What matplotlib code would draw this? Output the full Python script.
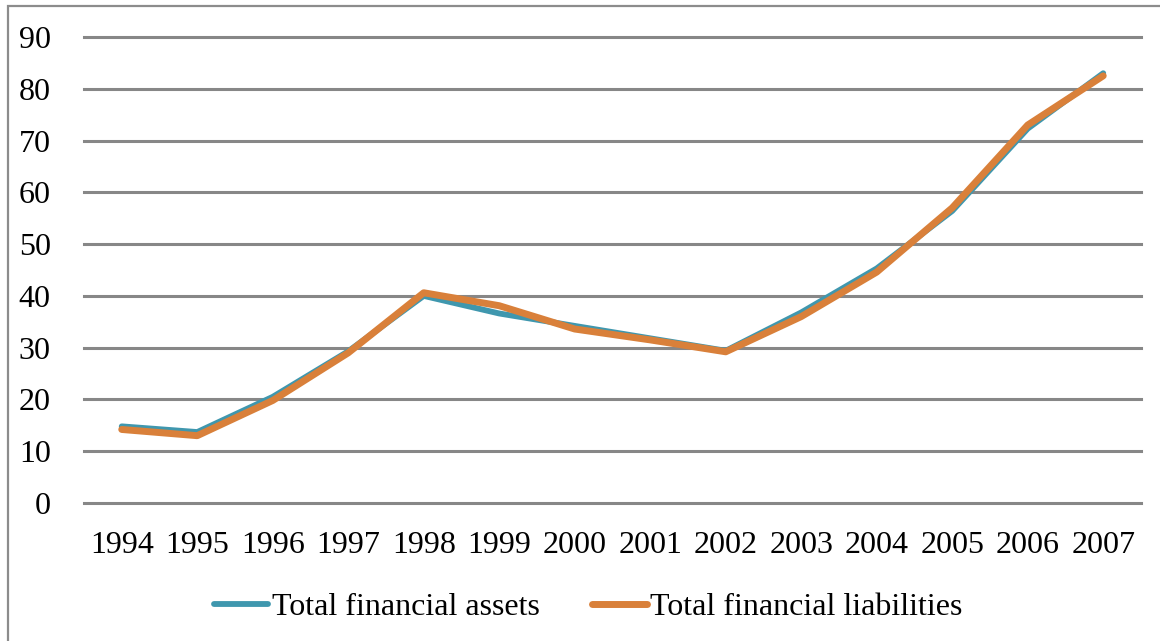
import numpy as np
import matplotlib

matplotlib.use("Agg")
import matplotlib.pyplot as plt
from matplotlib.patches import Rectangle

years = [str(y) for y in range(1994, 2008)]
assets = [14.8, 13.7, 20.5, 29.3, 40.0, 36.6, 34.2, 31.8, 29.4, 36.8, 45.3, 56.4, 72.3, 83.0]
liabilities = [14.2, 13.0, 19.8, 29.0, 40.6, 38.1, 33.6, 31.5, 29.2, 36.0, 44.6, 57.0, 73.0, 82.5]
yticks = list(range(0, 100, 10))

plt.rcParams["font.family"] = ["Liberation Serif", "DejaVu Serif"]

fig = plt.figure(figsize=(11.6, 6.41), dpi=100)
ax = fig.add_axes([0.0724, 0.2153, 0.9112, 0.727])

x = np.arange(len(years))
ax.plot(x, assets, color="#3F97AE", lw=4.2, solid_capstyle="round",
        solid_joinstyle="round", label="Total financial assets", zorder=3)
ax.plot(x, liabilities, color="#D9803A", lw=5.0, solid_capstyle="round",
        solid_joinstyle="round", label="Total financial liabilities", zorder=4)

ax.set_xlim(-0.5, len(years) - 0.5)
ax.set_ylim(0, 90)
ax.set_yticks(yticks)
ax.set_xticks(x)
ax.set_xticklabels(years)
ax.tick_params(axis="both", length=0, labelsize=23)
ax.tick_params(axis="y", pad=24)
ax.tick_params(axis="x", pad=20)
ax.grid(axis="y", color="#878787", lw=2.2)
for g in ax.yaxis.get_gridlines():
    g.set_clip_on(False)
ax.set_axisbelow(True)
for s in ax.spines.values():
    s.set_visible(False)

leg = fig.legend(loc="center", bbox_to_anchor=(0.507, 0.053), ncol=2, frameon=False,
                 fontsize=23, handlelength=1.7, handletextpad=0.1, columnspacing=1.65)

# outer chart border
fig.patches.append(Rectangle((8 / 1160, -0.1), 1.2, 1.1 - 6 / 641, transform=fig.transFigure,
                             fill=False, edgecolor="#8C8C8C", lw=1.6))

fig.savefig("out.png", dpi=100)
plt.close(fig)
